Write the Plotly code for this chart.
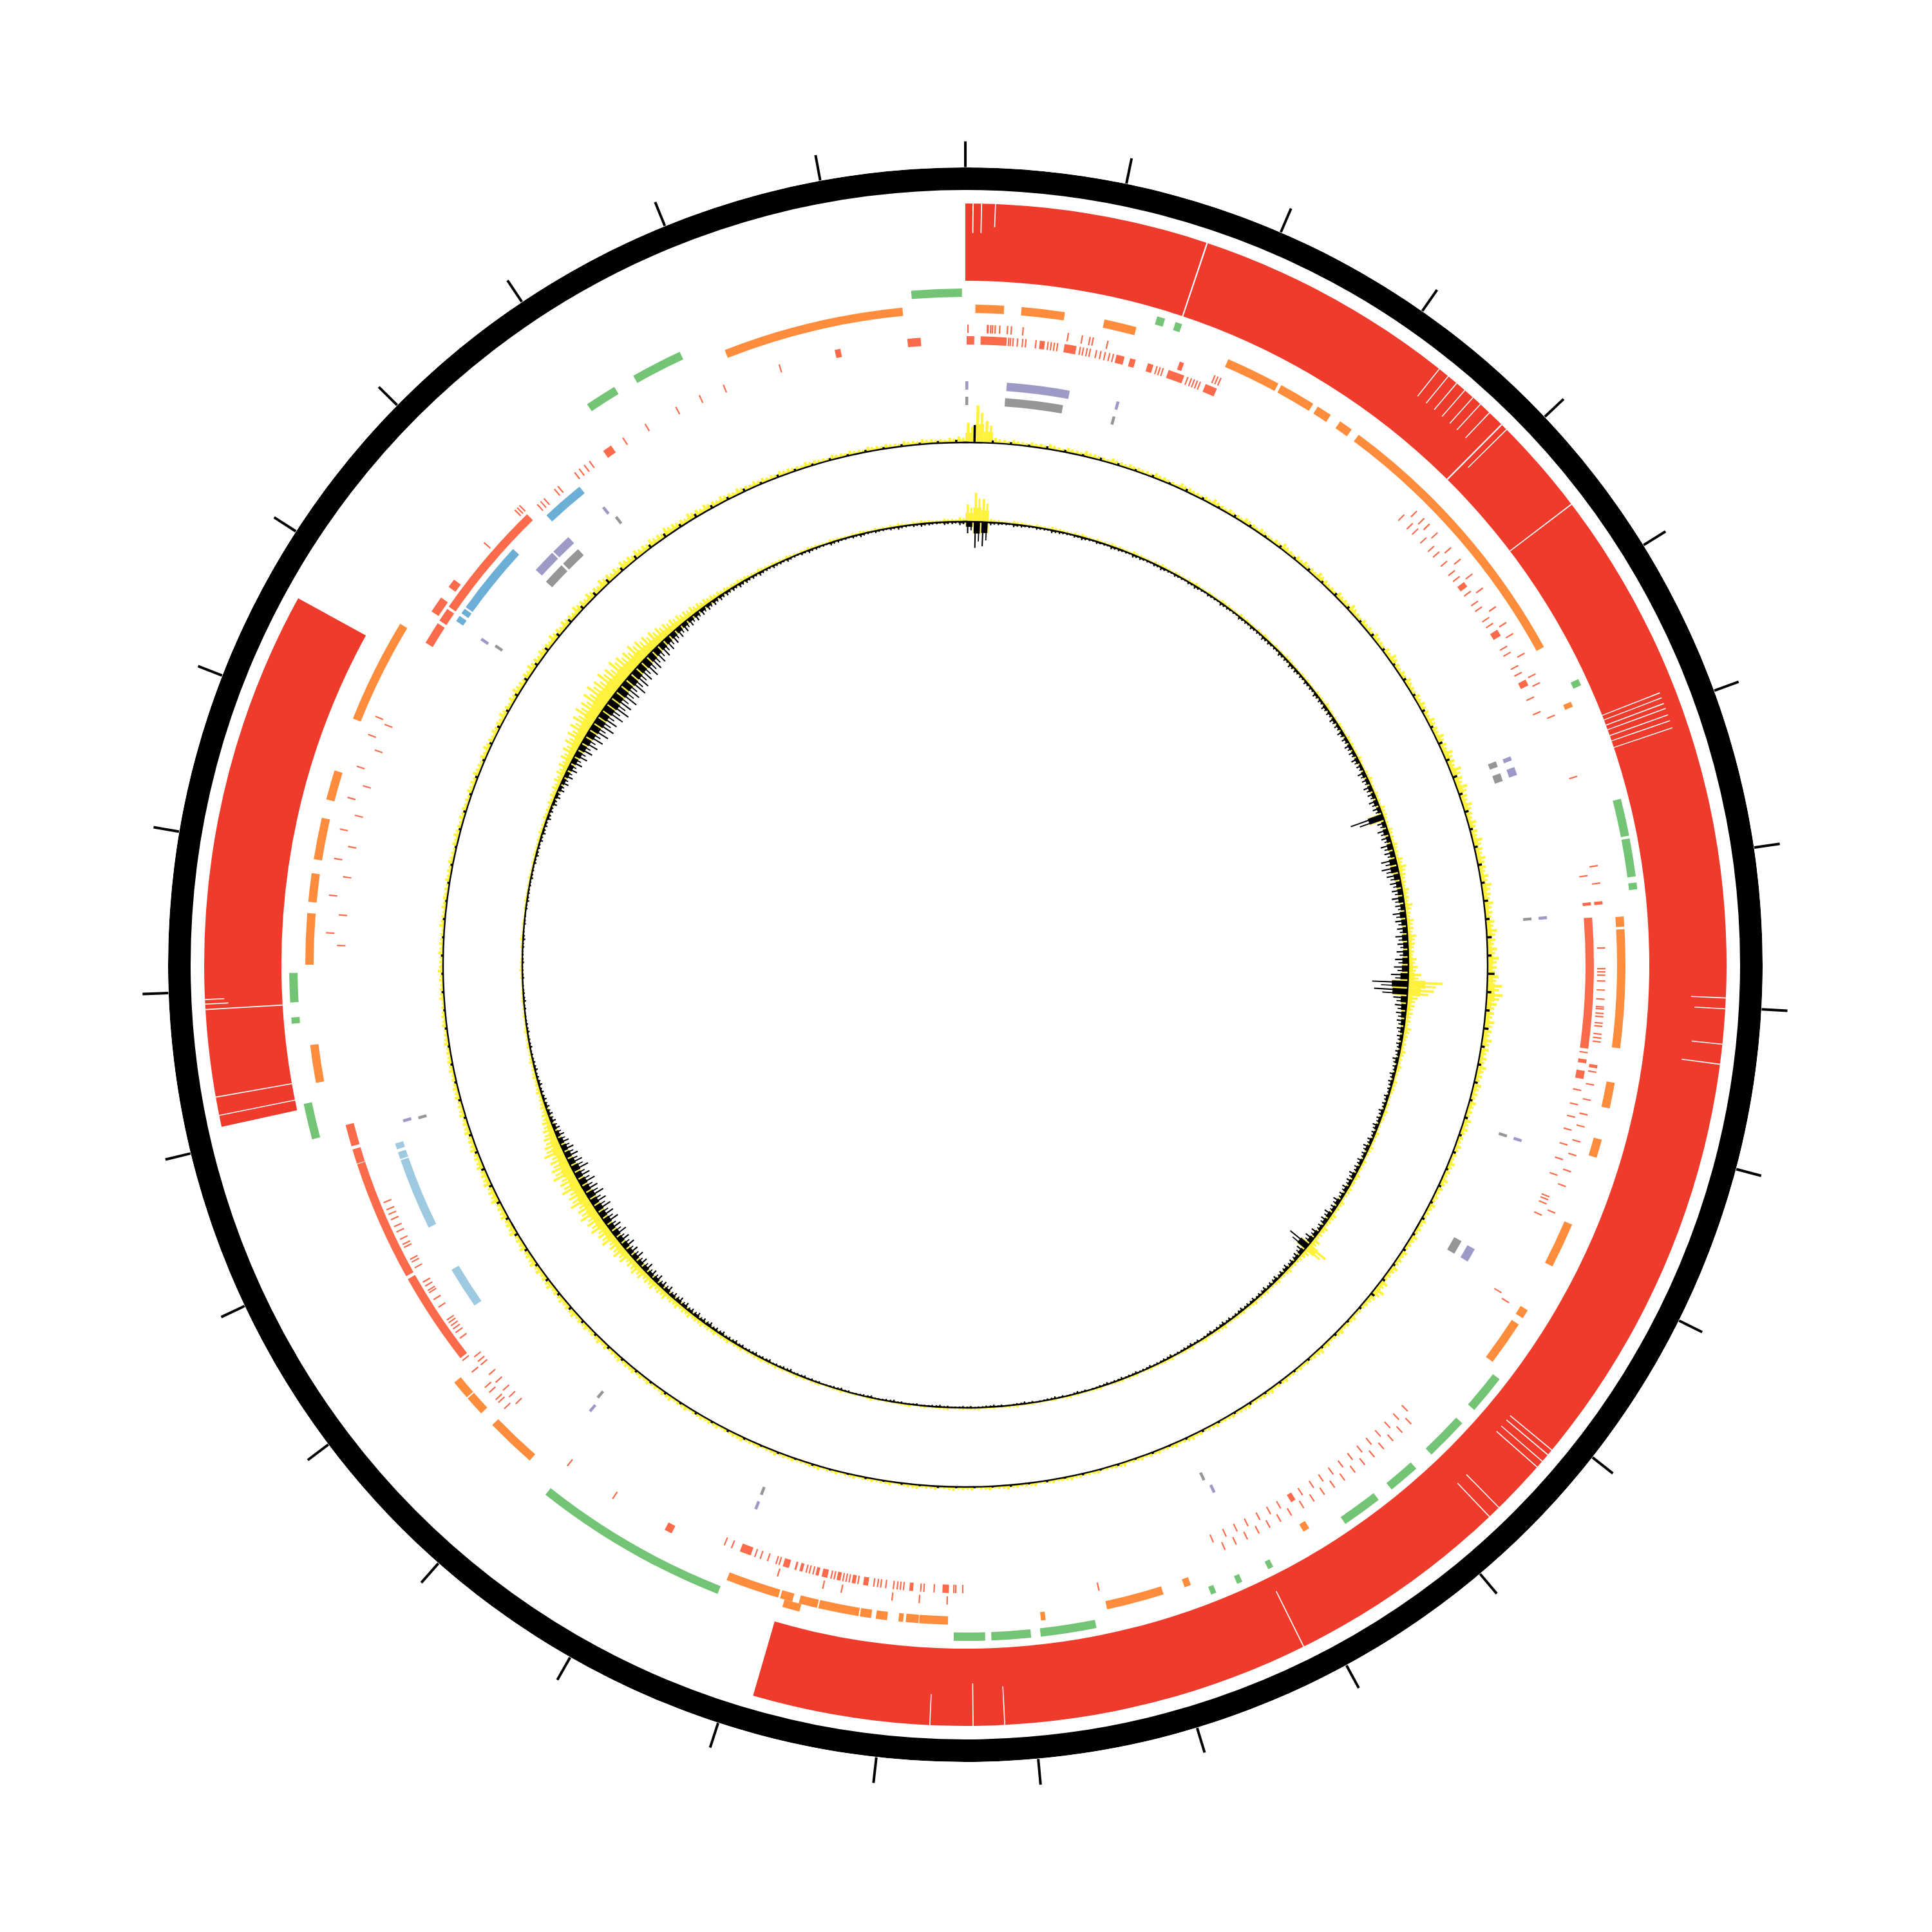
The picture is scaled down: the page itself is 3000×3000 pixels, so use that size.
import plotly.graph_objects as go

GENOME_KB = 6180
TICK_KB = list(range(0, 6001, 200))

# red coverage blocks (outer tile track)
BLOCK_START = [0, 4424]
BLOCK_END = [3368, 5129]

# white gaps inside the coverage blocks: position (kb), width (kb), depth range (0 = inner edge, 1 = outer edge)
GAP_POS = [10, 21, 39, 318, 661, 676, 690, 704, 718, 731, 747, 769, 778, 906,
           1178, 1185, 1193, 1200, 1209, 1217, 1227, 1588, 1602, 1648, 1674,
           2225, 2233, 2244, 2254, 2326, 2343, 2637, 3039, 3080, 3136,
           4439, 4463, 4577, 4584, 4590]
GAP_WIDTH = [1.5, 1.5, 1, 2, 1, 1, 1, 1, 1, 1, 1, 2, 1, 1.5,
             1.2, 1.2, 1.2, 1.2, 1.2, 1.2, 1.2, 1, 1, 1, 1,
             1.2, 1.2, 1.2, 1.2, 1, 1, 1.5, 1, 1, 1,
             1, 1.5, 1.5, 1, 1]
GAP_LO = [0.62, 0.62, 0.7, 0, 0.55, 0.55, 0.55, 0.55, 0.55, 0.55, 0.55, 0, 0.3, 0,
          0, 0, 0, 0, 0, 0, 0, 0.55, 0.6, 0.6, 0.5,
          0.3, 0.3, 0.3, 0.3, 0.4, 0.4, 0.2, 0.5, 0.45, 0.6,
          0, 0, 0, 0.7, 0.75]
GAP_HI = [1, 1, 1, 1, 1, 1, 1, 1, 1, 1, 1, 1, 1, 1,
          0.8, 0.8, 0.8, 0.8, 0.8, 0.8, 0.8, 1, 1, 1, 1,
          1, 1, 1, 1, 1, 1, 1, 1, 1, 1,
          1, 1, 1, 1, 1]

GREEN_START = [6101, 283, 311, 1116, 1301, 1360, 1425, 2194, 2278, 2372, 2443, 2625, 2675,
               2716, 2898, 2994, 3061, 3459, 4378, 4549, 4580, 5596, 5675]
GREEN_END = [6175, 295, 321, 1126, 1356, 1416, 1435, 2252, 2342, 2419, 2503, 2633, 2683,
             2724, 2980, 3052, 3107, 3749, 4431, 4558, 4623, 5643, 5751]

ORANGE_START = [5813, 15, 84, 209, 403, 491, 554, 594, 628, 1142, 1473, 1492, 1722, 1809,
                1943, 2087, 2112, 2551, 2747, 2790, 2970, 3116, 3160, 3183, 3207, 3231,
                3250, 3313, 3351, 3373, 3799, 3900, 3932, 4458, 4635, 4729, 4793, 4884, 5011]
ORANGE_END = [6086, 58, 149, 258, 486, 546, 577, 615, 1051, 1150, 1488, 1670, 1761, 1837,
              2012, 2101, 2180, 2561, 2757, 2877, 2977, 3159, 3179, 3190, 3224, 3248,
              3311, 3341, 3370, 3454, 3876, 3930, 3961, 4515, 4712, 4772, 4856, 4929, 5169]
ORANGE2_START = [3337]
ORANGE2_END = [3363]

# red features, inner strand row: thin single features and longer ones
RED_IN_TICKS = [67, 70, 74, 81, 89, 94, 110, 129, 134, 139, 144, 180, 185, 191, 196, 206, 213,
                220, 227, 233, 304, 309, 314, 355, 361, 366, 371, 376, 5883,
                759, 778, 790, 809, 827, 839, 858, 877, 889, 918, 937, 948, 968, 979, 1021,
                1032, 1056, 1068, 1111, 1136,
                1404, 1682, 1742, 1765, 1785, 1806, 1830, 1854, 1880, 1916, 1921, 1928, 1947, 2084,
                2321, 2340, 2359, 2379, 2398, 2417, 2436, 2455, 2474, 2493, 2511, 2532, 2572,
                2590, 2609, 2630, 2649, 2668, 2690,
                3093, 3104, 3107, 3138, 3154, 3159, 3186, 3191, 3196, 3202, 3214, 3222, 3227,
                3233, 3258, 3272, 3277, 3282, 3296, 3301, 3330, 3336, 3341, 3385, 3390, 3404,
                3416, 3425, 3464, 3476,
                3873, 3888, 3902, 3919, 3935, 3955, 3962, 3971, 4008, 4019, 4026, 4032, 4038,
                4043, 4067, 4081, 4094, 4098, 4106, 4113, 4139, 4149, 4154, 4175, 4180, 4189,
                4202, 4211, 4223, 4232, 4240, 4252,
                4664, 4712, 4772, 4820, 4870, 4918, 4977, 5020,
                5442, 5449, 5456, 5478, 5485, 5519, 5528, 5538, 5548, 5612, 5653, 5708, 5749, 5790]
RED_IN_START = [6089, 5974, 2, 24, 117, 156, 239, 261, 290, 324, 386, 901, 992, 1082, 1447,
                1471, 1694, 1712, 2546, 3116, 3172, 3243, 3263, 3287, 3308, 3322, 3348, 3358,
                3370, 3433, 5164, 5205, 5231, 5576]
RED_IN_END = [6110, 5983, 14, 65, 125, 175, 252, 270, 299, 350, 405, 910, 1003, 1092, 1452,
              1677, 1700, 1725, 2554, 3126, 3178, 3251, 3269, 3293, 3317, 3327, 3353, 3361,
              3380, 3451, 5200, 5227, 5421, 5591]

# red features, outer strand row
RED_OUT_TICKS = [3, 33, 34, 38, 41, 45, 52, 64, 70, 88, 158, 180, 192, 197, 220, 393, 398, 403,
                 769, 785, 797, 815, 846, 869, 898, 925, 960, 989, 1009, 1044, 1080, 1095, 1150,
                 1250, 1391, 1418,
                 1518, 1550, 1555, 1560, 1569, 1583, 1597, 1609, 1612, 1619, 1624, 1634, 1639,
                 1651, 1657, 1663, 1710, 1730, 1754, 1777, 1796, 1820, 1842, 1868, 1892, 1936, 2091,
                 2331, 2350, 2369, 2388, 2407, 2426, 2445, 2465, 2484, 2503, 2522, 2541, 2563,
                 2582, 2601, 2620, 2640, 2659, 2678,
                 2882, 3117, 3160, 3202, 3281, 3310, 3382, 3663, 3749,
                 4324, 3978, 3955, 3914, 3924, 3899, 3880, 3893,
                 4683, 4741, 4798, 4844, 4894, 4944, 4996, 5026,
                 5342, 5411, 5416, 5421]
RED_OUT_START = [336, 1700, 1447, 3559, 3984, 4135, 4326, 4352, 5210, 5256]
RED_OUT_END = [343, 1705, 1452, 3571, 4130, 4323, 4347, 4386, 5236, 5270]

BLUE_START = [5219, 5234, 5246, 5442]
BLUE_END = [5229, 5243, 5366, 5512]
LBLUE_START = [4326, 4309, 4187, 4038]
LBLUE_END = [4336, 4321, 4307, 4108]

PURPLE_START = [0, 70, 258, 1186, 1205, 1463, 1844, 2046, 2654, 3449, 3775, 4366, 5215, 5366, 5409, 5519]
PURPLE_END = [5, 177, 263, 1193, 1219, 1468, 1849, 2070, 2659, 3454, 3780, 4371, 5220, 5406, 5444, 5524]
GRAY_START = [0, 69, 258, 1185, 1207, 1463, 1844, 2045, 2661, 3449, 3780, 4364, 5219, 5363, 5406, 5526]
GRAY_END = [5, 170, 263, 1195, 1221, 1468, 1849, 2070, 2666, 3454, 3785, 4369, 5224, 5402, 5442, 5531]

# windowed signal, outer ring (360 windows)
OUTER_SIG = [
    45, 85, 50, 12, 9, 11, 8, 10, 9, 12, 8, 11, 9, 13, 10, 8, 12, 9, 11, 10,
    9, 12, 10, 8, 13, 11, 9, 10, 14, 9, 11, 9, 13, 10, 12, 8, 11, 15, 10, 12,
    13, 11, 16, 12, 10, 14, 12, 17, 11, 13, 12, 15, 11, 14, 18, 12, 13, 16, 11, 14,
    15, 13, 17, 14, 19, 16, 22, 18, 25, 20, 24, 17, 21, 15, 19, 16, 22, 18, 20, 17,
    19, 23, 18, 21, 17, 20, 24, 19, 22, 26, 21, 25, 34, 36, 24, 20, 23, 19, 22, 18,
    17, 20, 15, 18, 14, 16, 13, 17, 15, 12, 14, 11, 15, 12, 16, 13, 11, 14, 10, 13,
    12, 15, 11, 14, 13, 16, 12, 18, 24, 15, 11, 9, 12, 10, 13, 9, 11, 14, 10, 9,
    10, 8, 11, 9, 12, 10, 8, 11, 9, 10, 8, 10, 7, 9, 11, 8, 10, 7, 9, 8,
    9, 7, 10, 8, 6, 9, 7, 8, 10, 7, 8, 6, 9, 7, 8, 10, 7, 9, 6, 8,
    7, 9, 6, 8, 7, 10, 8, 6, 9, 7, 8, 7, 9, 6, 8, 7, 10, 8, 7, 9,
    8, 10, 7, 9, 8, 11, 9, 8, 10, 9, 10, 8, 11, 9, 12, 10, 9, 11, 10, 12,
    11, 13, 10, 12, 14, 11, 13, 12, 15, 13, 14, 12, 16, 13, 15, 17, 14, 16, 13, 18,
    15, 17, 14, 19, 16, 18, 15, 17, 14, 16, 13, 15, 12, 14, 11, 13, 12, 10, 12, 11,
    10, 12, 9, 11, 10, 8, 11, 9, 10, 12, 9, 11, 10, 8, 12, 9, 11, 10, 9, 11,
    10, 12, 9, 11, 13, 10, 12, 11, 10, 13, 12, 14, 11, 13, 15, 12, 14, 13, 16, 12,
    14, 17, 13, 16, 18, 15, 17, 14, 19, 16, 18, 15, 20, 17, 19, 16, 21, 18, 17, 20,
    17, 19, 16, 18, 15, 20, 17, 14, 18, 15, 16, 13, 15, 12, 14, 11, 13, 12, 10, 12,
    11, 9, 12, 10, 8, 11, 9, 10, 8, 11, 9, 10, 8, 11, 9, 12, 10, 9, 11, 14]

# second outer signal (180 windows), drawn in black over the first
OUTER_SIG2 = [
    40, 6, 5, 4, 6, 5, 4, 6, 5, 4, 5, 4, 6, 5, 4, 6, 5, 4, 6, 5,
    6, 5, 7, 6, 5, 7, 6, 5, 7, 6, 7, 6, 9, 8, 10, 8, 9, 7, 8, 9,
    8, 10, 9, 11, 9, 16, 10, 9, 11, 8, 7, 8, 6, 7, 6, 7, 5, 6, 5, 6,
    5, 6, 5, 7, 9, 5, 4, 5, 4, 5, 4, 5, 4, 5, 4, 4, 5, 4, 3, 4,
    3, 4, 3, 4, 3, 4, 3, 4, 3, 3, 3, 4, 3, 4, 3, 4, 3, 3, 4, 3,
    4, 3, 4, 5, 4, 5, 4, 5, 4, 5, 5, 6, 5, 6, 7, 6, 7, 6, 7, 8,
    7, 8, 7, 8, 7, 6, 5, 6, 5, 5, 4, 5, 4, 5, 4, 5, 4, 5, 4, 5,
    5, 4, 5, 6, 5, 6, 5, 6, 7, 6, 7, 8, 7, 9, 8, 9, 8, 9, 10, 8,
    9, 8, 9, 7, 8, 7, 6, 7, 5, 6, 5, 4, 5, 4, 5, 4, 5, 4, 5, 6]

# skew-like inner signal: positive part and negative part (360 windows each)
SKEW_POS = [
    30, 50, 40, 6, 5, 4, 6, 5, 4, 5, 4, 6, 5, 4, 5, 6, 4, 5, 4, 6,
    5, 4, 6, 5, 4, 5, 6, 4, 5, 4, 5, 6, 4, 5, 4, 6, 5, 4, 6, 5,
    4, 5, 6, 4, 5, 4, 6, 5, 4, 5, 5, 4, 6, 5, 7, 5, 4, 6, 5, 7,
    6, 5, 7, 4, 6, 8, 5, 7, 6, 9, 8, 6, 9, 7, 10, 8, 12, 15, 11, 9,
    12, 10, 14, 9, 13, 11, 15, 12, 10, 14, 16, 22, 60, 45, 18, 14, 12, 10, 13, 9,
    8, 10, 7, 9, 6, 8, 7, 5, 6, 8, 6, 5, 7, 6, 8, 5, 7, 6, 9, 7,
    8, 6, 9, 7, 10, 8, 11, 9, 14, 38, 12, 8, 7, 9, 6, 8, 5, 7, 6, 8,
    5, 7, 6, 5, 8, 6, 5, 7, 4, 6, 5, 4, 6, 5, 4, 5, 3, 5, 4, 5,
    4, 3, 5, 4, 3, 4, 5, 3, 4, 3, 3, 4, 3, 5, 4, 3, 4, 3, 5, 4,
    4, 3, 5, 4, 3, 4, 3, 5, 4, 3, 3, 4, 5, 3, 4, 3, 5, 4, 3, 5,
    4, 5, 6, 4, 5, 6, 5, 7, 6, 5, 7, 6, 8, 7, 9, 8, 10, 9, 11, 10,
    12, 11, 14, 13, 16, 15, 18, 20, 17, 22, 24, 21, 27, 25, 30, 28, 33, 29, 35, 31,
    36, 32, 38, 34, 30, 35, 28, 24, 20, 16, 12, 10, 8, 9, 7, 8, 6, 7, 5, 6,
    5, 6, 4, 5, 4, 5, 4, 3, 4, 5, 4, 3, 4, 5, 3, 4, 3, 4, 5, 4,
    4, 5, 4, 5, 6, 5, 6, 7, 6, 8, 7, 9, 10, 12, 14, 16, 18, 21, 24, 27,
    30, 33, 36, 40, 38, 42, 45, 41, 44, 39, 42, 38, 35, 37, 33, 30, 28, 25, 22, 20,
    18, 16, 15, 13, 12, 10, 9, 8, 7, 8, 7, 6, 7, 5, 6, 5, 6, 4, 5, 6,
    5, 4, 6, 5, 4, 5, 6, 4, 5, 4, 5, 6, 4, 5, 6, 5, 4, 6, 5, 8]
SKEW_NEG = [
    20, 45, 42, 5, 4, 3, 5, 4, 3, 4, 3, 5, 4, 3, 4, 5, 3, 4, 3, 5,
    4, 3, 5, 4, 3, 4, 5, 3, 4, 3, 4, 5, 3, 4, 3, 5, 4, 3, 5, 4,
    5, 4, 6, 5, 4, 6, 5, 7, 6, 5, 6, 5, 7, 6, 8, 7, 9, 8, 10, 9,
    11, 10, 12, 9, 13, 11, 14, 12, 15, 13, 58, 14, 18, 15, 20, 17, 26, 28, 22, 19,
    18, 20, 16, 22, 19, 17, 21, 18, 20, 23, 25, 30, 62, 58, 24, 20, 17, 14, 12, 10,
    9, 8, 10, 7, 9, 8, 6, 8, 7, 9, 8, 10, 7, 9, 11, 8, 10, 9, 12, 10,
    11, 9, 13, 10, 14, 12, 9, 13, 16, 40, 14, 10, 8, 9, 7, 8, 6, 7, 5, 6,
    5, 6, 4, 5, 6, 4, 5, 3, 4, 5, 4, 3, 5, 4, 3, 4, 3, 4, 3, 4,
    3, 4, 3, 2, 3, 4, 2, 3, 4, 3, 2, 3, 4, 3, 2, 3, 4, 3, 2, 3,
    3, 2, 3, 4, 3, 2, 3, 2, 3, 4, 3, 2, 4, 3, 2, 3, 4, 3, 2, 3,
    3, 4, 3, 5, 4, 3, 5, 4, 5, 4, 5, 6, 5, 7, 6, 8, 7, 9, 8, 10,
    11, 10, 13, 12, 15, 14, 17, 16, 19, 18, 21, 20, 24, 22, 26, 25, 28, 27, 30, 26,
    28, 25, 29, 24, 22, 20, 17, 14, 11, 9, 8, 7, 6, 5, 6, 4, 5, 4, 3, 4,
    3, 4, 3, 2, 3, 4, 3, 2, 3, 2, 3, 2, 3, 4, 2, 3, 2, 3, 4, 3,
    3, 4, 3, 4, 5, 4, 5, 6, 5, 7, 6, 8, 9, 11, 13, 15, 17, 20, 23, 26,
    29, 32, 35, 38, 36, 40, 43, 39, 41, 37, 40, 36, 33, 35, 31, 28, 26, 23, 20, 18,
    16, 14, 13, 11, 10, 9, 8, 7, 6, 7, 6, 5, 6, 4, 5, 4, 5, 3, 4, 5,
    4, 3, 5, 4, 3, 4, 5, 3, 4, 3, 4, 5, 3, 4, 5, 4, 3, 5, 4, 6]

# ---- styling: track radii in px (the polar radial axis is 1 unit = 1 px)
R_MAX = 1238
RING = (1203, 1238)
BLOCK = (1062, 1182)
GREEN_R = (1037, 1050)
ORANGE2_R = (1025, 1037)
ORANGE_R = (1012, 1025)
RED_OUT_R = (981, 994)
RED_IN_R = (963, 976)
BLUE_R = (941, 954)
LBLUE_R = (915, 928)
PURPLE_R = (893, 906)
GRAY_R = (869, 882)
OUTER_BASE = 811
INNER_BASE = 688
OUTER_SCALE = 0.68
INNER_SCALE = 0.9

RED_BLOCK = "#ef3b2c"
RED_FEAT = "#fb6a4a"
ORANGE = "#fd8d3c"
GREEN = "#74c476"
BLUE = "#6baed6"
LBLUE = "#9ecae1"
PURPLE = "#9e9ac8"
GRAY = "#969696"
YELLOW = "#fff23c"


def deg(kb):
    return kb * 360.0 / GENOME_KB


def sectors(starts, ends, r0, r1, color, min_w=0.12):
    th = [deg((s + e) / 2.0) for s, e in zip(starts, ends)]
    w = [max(deg(e - s), min_w) for s, e in zip(starts, ends)]
    n = len(th)
    return go.Barpolar(theta=th, width=w, base=[r0] * n, r=[r1 - r0] * n,
                       marker=dict(color=color, line=dict(width=0)), hoverinfo="skip")


def ticks(pos, r0, r1, color, w_kb=2.2):
    return sectors(pos, [p + w_kb for p in pos], r0, r1, color)


def full_ring(r0, r1, color):
    # three overlapping thirds so the path never degenerates into a full circle
    return go.Barpolar(theta=[60, 180, 300], width=[120.6] * 3, base=[r0] * 3, r=[r1 - r0] * 3,
                       marker=dict(color=color, line=dict(width=0)), hoverinfo="skip")


def signal(values, base, color, scale=1.0, inward=False, width_frac=1.0, offset=0.5):
    n = len(values)
    step = GENOME_KB / n
    th = [deg((i + offset) * step) for i in range(n)]
    w = [deg(step) * width_frac] * n
    r = [v * scale for v in values]
    b = [base - v for v in r] if inward else [base] * n
    return go.Barpolar(theta=th, width=w, base=b, r=r,
                       marker=dict(color=color, line=dict(width=0)), hoverinfo="skip")


def fuzzy(values, base, color, scale, inward=False):
    # dense core near the baseline plus thin needles reaching the full value
    return [
        signal(values, base, color, scale=scale * 0.5, inward=inward),
        signal(values, base, color, scale=scale, inward=inward, width_frac=0.3, offset=0.3),
        signal(values, base, color, scale=scale * 0.8, inward=inward, width_frac=0.25, offset=0.75),
    ]


fig = go.Figure()

# outer tile track with its white gaps
fig.add_trace(sectors(BLOCK_START, BLOCK_END, BLOCK[0], BLOCK[1], RED_BLOCK))
h = BLOCK[1] - BLOCK[0]
fig.add_trace(go.Barpolar(
    theta=[deg(p) for p in GAP_POS],
    width=[max(deg(w), 0.08) for w in GAP_WIDTH],
    base=[BLOCK[0] + lo * h for lo in GAP_LO],
    r=[(hi - lo) * h for lo, hi in zip(GAP_LO, GAP_HI)],
    marker=dict(color="white", line=dict(width=0)), hoverinfo="skip"))

fig.add_trace(sectors(GREEN_START, GREEN_END, *GREEN_R, GREEN))
fig.add_trace(sectors(ORANGE_START, ORANGE_END, *ORANGE_R, ORANGE))
fig.add_trace(sectors(ORANGE2_START, ORANGE2_END, *ORANGE2_R, ORANGE))
fig.add_trace(sectors(RED_OUT_START, RED_OUT_END, *RED_OUT_R, RED_FEAT))
fig.add_trace(ticks(RED_OUT_TICKS, *RED_OUT_R, RED_FEAT))
fig.add_trace(sectors(RED_IN_START, RED_IN_END, *RED_IN_R, RED_FEAT))
fig.add_trace(ticks(RED_IN_TICKS, *RED_IN_R, RED_FEAT))
fig.add_trace(sectors(BLUE_START, BLUE_END, *BLUE_R, BLUE))
fig.add_trace(sectors(LBLUE_START, LBLUE_END, *LBLUE_R, LBLUE))
fig.add_trace(sectors(PURPLE_START, PURPLE_END, *PURPLE_R, PURPLE, min_w=0.2))
fig.add_trace(sectors(GRAY_START, GRAY_END, *GRAY_R, GRAY, min_w=0.2))

# signal tracks
for t in fuzzy(OUTER_SIG, OUTER_BASE, YELLOW, OUTER_SCALE):
    fig.add_trace(t)
fig.add_trace(signal(OUTER_SIG2, OUTER_BASE, "black", scale=OUTER_SCALE, width_frac=0.12))
fig.add_trace(signal(SKEW_NEG, INNER_BASE, YELLOW, scale=INNER_SCALE * 0.45, inward=True))
for t in fuzzy(SKEW_POS, INNER_BASE, YELLOW, INNER_SCALE):
    fig.add_trace(t)
fig.add_trace(signal(SKEW_NEG, INNER_BASE, "black", scale=INNER_SCALE * 0.45, inward=True, width_frac=0.8))
fig.add_trace(signal(SKEW_NEG, INNER_BASE, "black", scale=INNER_SCALE, inward=True, width_frac=0.18, offset=0.3))
fig.add_trace(signal(SKEW_NEG, INNER_BASE, "black", scale=INNER_SCALE * 0.75, inward=True, width_frac=0.15, offset=0.75))
fig.add_trace(full_ring(OUTER_BASE - 1.2, OUTER_BASE + 1.2, "black"))
fig.add_trace(full_ring(INNER_BASE - 1.2, INNER_BASE + 1.2, "black"))

# ideogram ring
fig.add_trace(full_ring(RING[0], RING[1], "black"))

W = 3000
cx, cy = 1491, 1490   # page body margin shifts the plot by 8 px
fig.update_layout(
    width=W, height=W, autosize=False,
    margin=dict(l=0, r=0, t=0, b=0),
    paper_bgcolor="white",
    showlegend=False,
    hovermode=False,
    polar=dict(
        domain=dict(x=[(cx - R_MAX) / W, (cx + R_MAX) / W],
                    y=[1 - (cy + R_MAX) / W, 1 - (cy - R_MAX) / W]),
        bgcolor="white",
        barmode="overlay",
        hole=0,
        radialaxis=dict(range=[0, R_MAX], visible=False, showgrid=False),
        angularaxis=dict(
            rotation=90, direction="clockwise", thetaunit="degrees",
            tickmode="array", tickvals=[deg(t) for t in TICK_KB],
            showticklabels=False, ticks="outside", ticklen=40, tickwidth=4,
            tickcolor="black", showgrid=False, showline=False,
        ),
    ),
)

fig.write_html("out.html")
